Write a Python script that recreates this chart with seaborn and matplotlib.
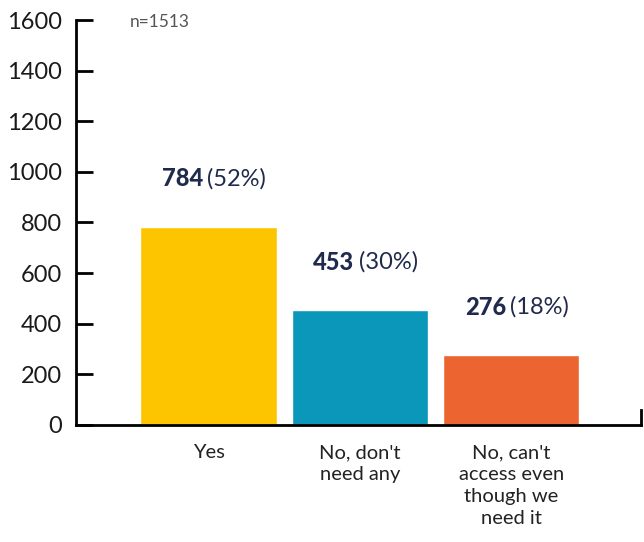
import matplotlib
matplotlib.use("Agg")
import matplotlib.pyplot as plt
import seaborn as sns
import pandas as pd

categories = ["Yes", "No, don't\nneed any", "No, can't\naccess even\nthough we\nneed it"]
counts = [784, 453, 276]
percents = ["(52%)", "(30%)", "(18%)"]
colors = ["#FCC500", "#0A97BA", "#EC6530"]
yticks = [0, 200, 400, 600, 800, 1000, 1200, 1400, 1600]
note = "n=1513"

sns.set_theme(style="white")
plt.rcParams['font.family'] = ['Lato', 'DejaVu Sans']

df = pd.DataFrame({"cat": categories, "count": counts})

fig = plt.figure(figsize=(6.44, 5.42), dpi=100)
ax = fig.add_axes([0.118, 0.216, 0.877, 0.747])
sns.barplot(data=df, x="cat", y="count", hue="cat", palette=colors,
            width=0.9, saturation=1, legend=False, ax=ax)

ax.set_xlim(-0.875, 2.855)
ax.set_ylim(0, 1600)
ax.set_yticks(yticks)
ax.set_xlabel("")
ax.set_ylabel("")
ax.tick_params(axis='y', left=True, direction='in', length=12, width=2, color='black',
               labelsize=17, pad=10, labelcolor='#1a1a1a')
ax.tick_params(axis='x', bottom=False, length=0, labelsize=14.5, pad=14, labelcolor='#222222')
for lbl in ax.get_xticklabels():
    lbl.set_linespacing(1.35)
ax.spines['top'].set_visible(False)
for s in ['left', 'bottom', 'right']:
    ax.spines[s].set_linewidth(2)
    ax.spines[s].set_color('black')
ax.spines['right'].set_bounds(0, 60)

navy = "#1F2A4D"
for i, (c, p) in enumerate(zip(counts, percents)):
    t1 = ax.annotate(str(c), xy=(i, c + 190), xytext=(-4, 0), textcoords='offset points',
                     ha='right', va='center', fontsize=17, fontweight='black', color=navy)
    ax.annotate(p, xy=(1, 0.5), xycoords=t1, xytext=(3, 0), textcoords='offset points',
                ha='left', va='center', fontsize=17, color=navy)

ax.text(0.095, 0.995, note, transform=ax.transAxes, ha='left', va='center',
        fontsize=12.5, color='#555555')

fig.savefig("out.png", dpi=100)
